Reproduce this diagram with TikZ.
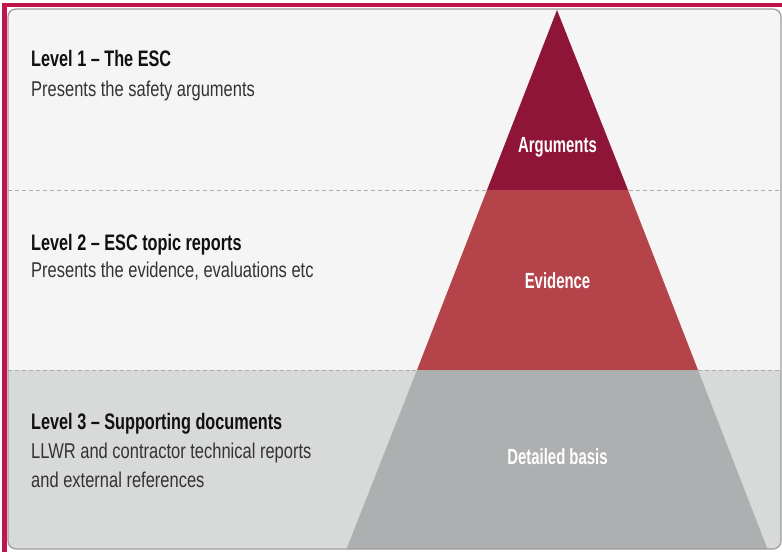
\documentclass[tikz,border=0pt]{standalone}
\usepackage{fontspec}
\setmainfont{Liberation Sans}[FakeStretch=0.725]
\newfontfamily\bodyfont{Liberation Sans}[FakeStretch=0.77]
\newfontfamily\labelfont{Liberation Sans}[FakeStretch=0.68]

\definecolor{FrameRed}{HTML}{C01548}
\definecolor{PanelEdge}{HTML}{9C9C9C}
\definecolor{BandLight}{HTML}{F4F5F4}
\definecolor{BandDark}{HTML}{D8D9D9}
\definecolor{DashGray}{HTML}{ABABAB}
\definecolor{ArgumentsFill}{HTML}{8E1538}
\definecolor{EvidenceFill}{HTML}{B4434A}
\definecolor{BasisFill}{HTML}{AEAFB0}
\definecolor{TitleText}{HTML}{111111}
\definecolor{BodyText}{HTML}{333333}

\tikzset{
    LevelTitle/.style={anchor=base west, inner sep=0pt, text=TitleText,
        font=\bfseries\fontsize{22.5}{26}\selectfont},
    LevelText/.style={anchor=base west, inner sep=0pt, text=BodyText, align=left,
        font=\bodyfont\fontsize{21.5}{29}\selectfont},
    PyramidLabel/.style={anchor=base, inner sep=0pt, text=white,
        font=\labelfont\bfseries\fontsize{22}{26}\selectfont},
    LevelDivider/.style={DashGray, line width=0.8pt, dash pattern=on 4pt off 3pt}
}

\begin{document}
\begin{tikzpicture}[x=1bp, y=-1bp]

    \useasboundingbox (0, 0) rectangle (782, 552);
    \fill[white] (0, 0) rectangle (782, 552);

    % outer frame
    \fill[FrameRed] (2, 3) rectangle (782, 7);
    \fill[FrameRed] (2, 3) rectangle (7, 552);

    % pyramid corners
    \coordinate (Apex) at (557, 10);
    \coordinate (A1) at (487, 190);
    \coordinate (A2) at (628, 190);
    \coordinate (B1) at (417, 370);
    \coordinate (B2) at (698, 370);
    \coordinate (C1) at (346.5, 549);
    \coordinate (C2) at (767.5, 549);

    \begin{scope}
        \clip[rounded corners=8] (8, 9) rectangle (781, 549);
        \fill[BandLight] (8, 9) rectangle (781, 370);
        \fill[BandDark] (8, 370) rectangle (781, 549);

        \draw[LevelDivider] (8, 190) -- (781, 190);
        \draw[LevelDivider] (8, 370) -- (781, 370);

        \fill[ArgumentsFill] (Apex) -- (A2) -- (A1) -- cycle;
        \fill[EvidenceFill] (A1) -- (A2) -- (B2) -- (B1) -- cycle;
        \fill[BasisFill] (B1) -- (B2) -- (C2) -- (C1) -- cycle;
    \end{scope}
    \draw[PanelEdge, line width=1.2pt, rounded corners=8] (8, 9) rectangle (781, 549);

    \node[PyramidLabel] (arguments) at (557.5, 153) {Arguments};
    \node[PyramidLabel] (evidence) at (557.5, 289) {Evidence};
    \node[PyramidLabel] (basis) at (557.5, 464) {Detailed basis};

    \node[LevelTitle] (levelOne) at (31, 67) {Level 1 -- The ESC};
    \node[LevelText] (levelOneText) at (31, 97) {Presents the safety arguments};

    \node[LevelTitle] (levelTwo) at (31, 251) {Level 2 -- ESC topic reports};
    \node[LevelText] (levelTwoText) at (31, 278) {Presents the evidence, evaluations etc};

    \node[LevelTitle] (levelThree) at (31, 429) {Level 3 -- Supporting documents};
    \node[LevelText] (levelThreeText) at (31, 458)
        {LLWR and contractor technical reports};
    \node[LevelText] (levelThreeMore) at (31, 487) {and external references};
\end{tikzpicture}
\end{document}
